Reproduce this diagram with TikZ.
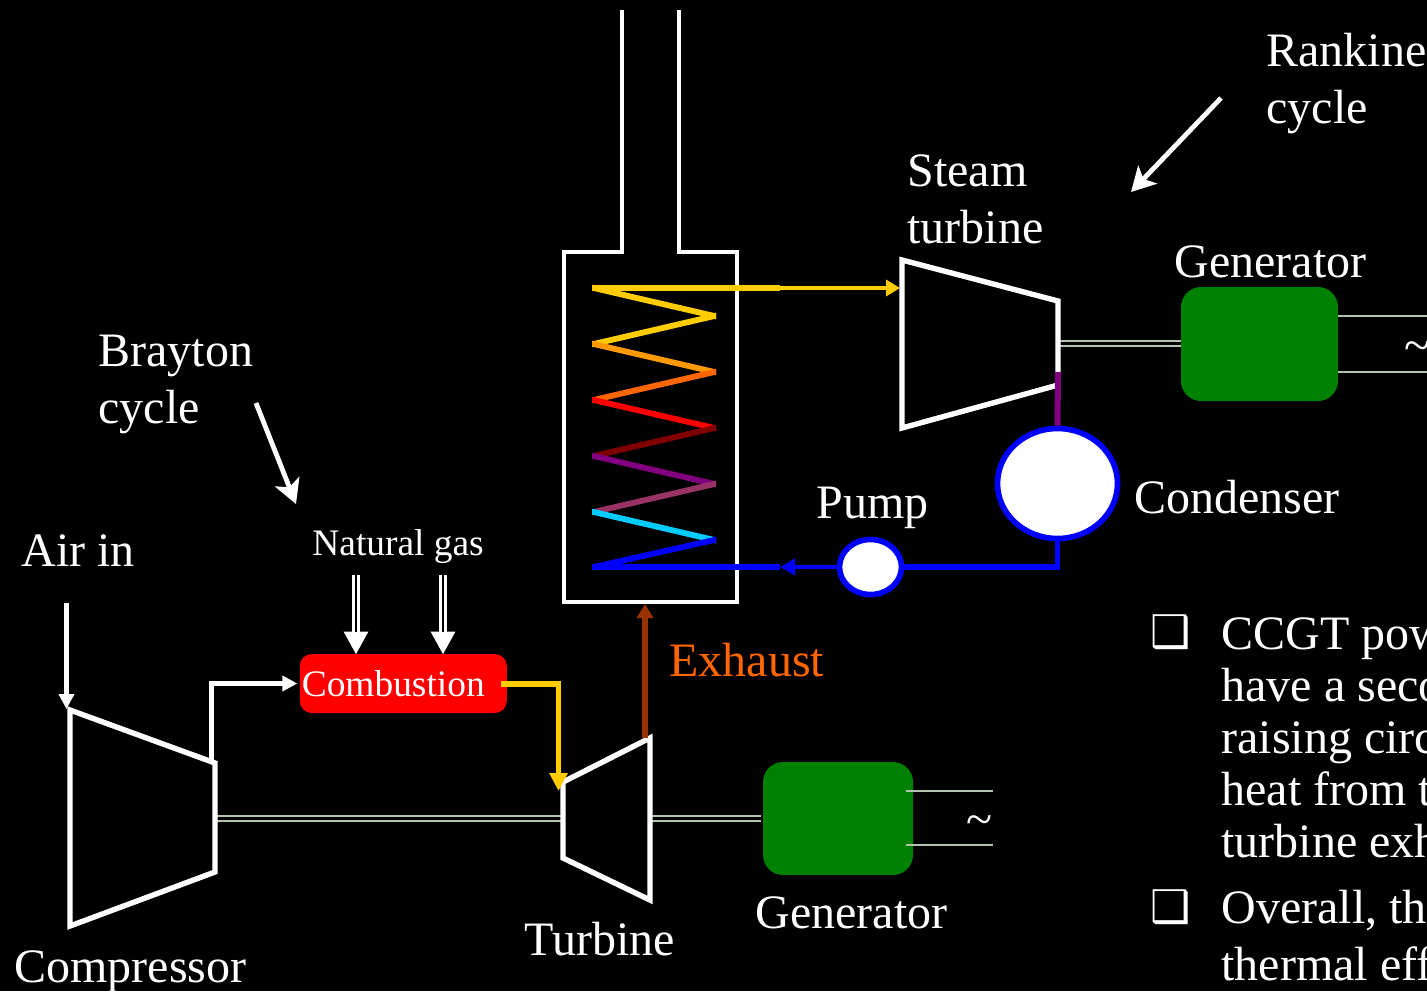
\documentclass[tikz,border=0pt]{standalone}
\usepackage{xcolor}
\usepackage{fontspec}
\setmainfont{Liberation Serif}
\newfontfamily\symfont{DejaVu Sans}
\usetikzlibrary{arrows.meta, positioning, shapes.geometric}

\definecolor{steamYellow}{HTML}{FFCC00}
\definecolor{coilOrange}{HTML}{FF9900}
\definecolor{coilDeep}{HTML}{FF6600}
\definecolor{coilMaroon}{HTML}{800000}
\definecolor{coilPurple}{HTML}{800080}
\definecolor{coilPlum}{HTML}{993366}
\definecolor{coilCyan}{HTML}{00CCFF}
\definecolor{genGreen}{HTML}{008000}
\definecolor{shaftGrey}{HTML}{B2C4AE}
\definecolor{exhaustBrown}{HTML}{993300}

\begin{document}
\begin{tikzpicture}[
        x=0.5pt,
        y=-0.5pt,
        casing/.style={draw=white, line width=2.7pt, line join=miter},
        generator/.style={
            draw=none,
            fill=genGreen,
            rounded corners=10pt,
            inner sep=0pt
        },
        burner/.style={
            fill=red,
            rounded corners=6pt,
            text=white,
            inner sep=0pt,
            minimum width=103.5pt,
            minimum height=29.5pt,
            font=\fontsize{18.7}{20}\selectfont
        },
        vessel/.style={
            draw=blue,
            fill=white,
            ellipse,
            line width=2.8pt,
            inner sep=0pt
        },
        shaft/.style={draw=shaftGrey, line width=1.2pt, double=black, double distance=1.3pt},
        wire/.style={draw=shaftGrey, line width=1.2pt},
        pipe/.style={line width=3pt},
        whitearrow/.style={draw=white, line width=2.5pt, -{Triangle[length=7.5pt,width=7.5pt]}, white},
        pointer/.style={draw=white, line width=2.4pt, -{Stealth[length=12pt,width=13pt,inset=3pt]}, white},
        gasarrow/.style={
            draw=white,
            line width=3.7pt,
            -{Triangle[length=11.5pt,width=11.5pt]},
            white,
            postaction={draw=black, line width=0.8pt, -, shorten >=11.5pt}
        },
        title/.style={text=white, inner sep=0pt, anchor=base west, xshift=-0.4pt, font=\fontsize{24}{28.5}\selectfont},
        para/.style={title, align=left},
        small/.style={text=white, inner sep=0pt, anchor=base west, font=\fontsize{18.7}{20}\selectfont}
    ]
    \useasboundingbox (0,0) rectangle (1427,991);
    \clip (0,0) rectangle (1427,991);
    \fill[black] (0,0) rectangle (1427,991);

    % machines
    \coordinate (compA) at (70,710);
    \coordinate (compB) at (215,763);
    \coordinate (compC) at (215,872);
    \coordinate (compD) at (70,926);
    \coordinate (turbA) at (563,782);
    \coordinate (turbB) at (650,738);
    \coordinate (turbC) at (650,900);
    \coordinate (turbD) at (563,858);
    \coordinate (steamA) at (902,260);
    \coordinate (steamB) at (1058,301);
    \coordinate (steamC) at (1058,385);
    \coordinate (steamD) at (902,428);

    \node[generator, minimum width=75pt, minimum height=56.5pt] (genlow) at (838,818.5) {};
    \node[generator, minimum width=78.5pt, minimum height=57pt] (genhigh) at (1259.5,344) {};
    \node[burner] (combustion) at (403.25,683.5) {\raisebox{-0.5pt}{Combustion}\hspace*{10pt}};
    \node[vessel, minimum width=60pt, minimum height=55pt] (condenser) at (1057.5,483.5) {};
    \node[vessel, minimum width=31pt, minimum height=27.5pt] (pump) at (870.5,567) {};

    % shafts and wires
    \coordinate (shaftA) at (216,818.2);
    \coordinate (shaftB) at (563,818.2);
    \coordinate (shaftC) at (648,818.2);
    \coordinate (shaftD) at (1058,343.5);
    \draw[shaft] (shaftA) -- (shaftB);
    \draw[shaft] (shaftC) -- ([xshift=-1pt]genlow.west |- shaftC);
    \draw[shaft] (shaftD) -- (genhigh.west |- shaftD);

    \coordinate (wireA) at (993,791);
    \coordinate (wireB) at (993,845);
    \coordinate (wireC) at (1427,316);
    \coordinate (wireD) at (1427,372);
    \draw[wire] (wireA) -- (906,791);
    \draw[wire] (wireB) -- (906,845);
    \draw[wire] (wireC) -- (genhigh.east |- wireC);
    \draw[wire] (wireD) -- (genhigh.east |- wireD);

    \draw[casing] (compA) -- (compB) -- (compC) -- (compD) -- cycle;
    \draw[casing] (turbA) -- (turbB) -- (turbC) -- (turbD) -- cycle;
    \draw[casing] (steamA) -- (steamB) -- (steamC) -- (steamD) -- cycle;

    % heat recovery boiler
    \draw[casing, line width=2.4pt] (622,10) -- (622,252) -- (564,252) -- (564,602) -- (737,602) -- (737,252) -- (679,252) -- (679,10);

    % coil
    \begin{scope}
        \clip (592,270) rectangle (716,580);
        \foreach \xa/\ya/\xb/\yb/\col in {
            585/286/723/318/steamYellow, 723/314/585/346/steamYellow,
            585/342/723/374/coilOrange, 723/370/585/402/coilDeep,
            585/398/723/430/red, 723/426/585/458/coilMaroon,
            585/454/723/486/coilPurple, 723/482/585/514/coilPlum,
            585/510/723/542/coilCyan, 723/538/585/569/blue} {
            \draw[\col, line width=2.9pt] (\xa,\ya) -- (\xb,\yb);
        }
    \end{scope}

    % steam and water lines
    \coordinate (steamOut) at (592,288);
    \coordinate (steamMid) at (780,288);
    \coordinate (steamIn) at (900,288);
    \coordinate (waterOut) at (592,567);
    \coordinate (waterMid) at (780,567);
    \draw[pipe, steamYellow] (steamOut) -- (steamMid);
    \draw[steamYellow, line width=2.4pt, -{Triangle[length=7pt,width=8pt]}] (steamMid) -- (steamIn);
    \draw[pipe, blue] (waterOut) -- (waterMid);
    \draw[blue, line width=2.4pt, -{Triangle[length=7.5pt,width=8pt]}] (pump.west) -- (waterMid);
    \draw[blue, line width=2.7pt] (condenser.south) |- (pump.east);
    \coordinate (bleed) at (1058,372);
    \draw[coilPurple, line width=3pt] (bleed) -- (condenser.north);

    % gas turbine connections
    \coordinate (airIn) at (66.5,603);
    \coordinate (airEnd) at (66.5,709);
    \coordinate (compOut) at (211,763);
    \coordinate (exhaustTop) at (645,604);
    \coordinate (exhaustOut) at (645,738);
    \coordinate (hotBend) at (558.5,684);
    \coordinate (hotOut) at (501,684);
    \coordinate (hotIn) at (558.5,791);
    \coordinate (gasA) at (356,575);
    \coordinate (gasB) at (443,575);
    \draw[whitearrow] (airIn) -- (airEnd);
    \draw[whitearrow] (compOut) |- ([xshift=-1pt]combustion.west);
    \draw[steamYellow, line width=2.7pt, -{Triangle[length=9pt,width=8.7pt]}] (hotOut) -- (hotBend) -- (hotIn);
    \draw[exhaustBrown, line width=2.7pt, -{Triangle[length=7pt,width=8pt]}] (exhaustOut) -- (exhaustTop);
    \draw[gasarrow] (gasA) -- ([yshift=-0.5pt]combustion.north -| gasA);
    \draw[gasarrow] (gasB) -- ([yshift=-0.5pt]combustion.north -| gasB);

    % cycle pointers
    \coordinate (rankineFrom) at (1221,98);
    \coordinate (rankineTo) at (1131,192);
    \coordinate (braytonFrom) at (256,403);
    \coordinate (braytonTo) at (296,504);
    \draw[pointer] (rankineFrom) -- (rankineTo);
    \draw[pointer] (braytonFrom) -- (braytonTo);

    % labels
    \node[para] (rankine) at (1267,123) {Rankine\\cycle};
    \node[para] (steamlabel) at (908,243) {Steam\\turbine};
    \node[title] (genhighlabel) at (1175,277) {Generator};
    \node[title] (condlabel) at (1135,513) {Condenser};
    \node[title] (pumplabel) at (817,518) {Pump};
    \node[para] (brayton) at (99,423) {Brayton\\cycle};
    \node[small] (gaslabel) at (312,555) {Natural gas};
    \node[title] (airlabel) at (22,566) {Air in};
    \node[title, text=coilDeep] (exhaustlabel) at (670,676) {Exhaust};
    \node[title] (complabel) at (15,982) {Compressor};
    \node[title] (turblabel) at (525,955) {Turbine};
    \node[title] (genlowlabel) at (756,928) {Generator};
    \node[title] (acnlow) at (967,835) {\textasciitilde};
    \node[title] (achigh) at (1405,361) {\textasciitilde};

    % bullet points
    \node[title, font=\symfont\fontsize{22.5}{24}\selectfont] (bulletA) at (1151,647) {❑};
    \node[title, font=\symfont\fontsize{22.5}{24}\selectfont] (bulletB) at (1151,922) {❑};
    \node[para, font=\fontsize{24}{26}\selectfont] (pointA) at (1222,857) {CCGT pow\\have a seco\\raising circ\\heat from t\\turbine exh};
    \node[para] (pointB) at (1222,980) {Overall, th\\thermal eff};
\end{tikzpicture}
\end{document}
